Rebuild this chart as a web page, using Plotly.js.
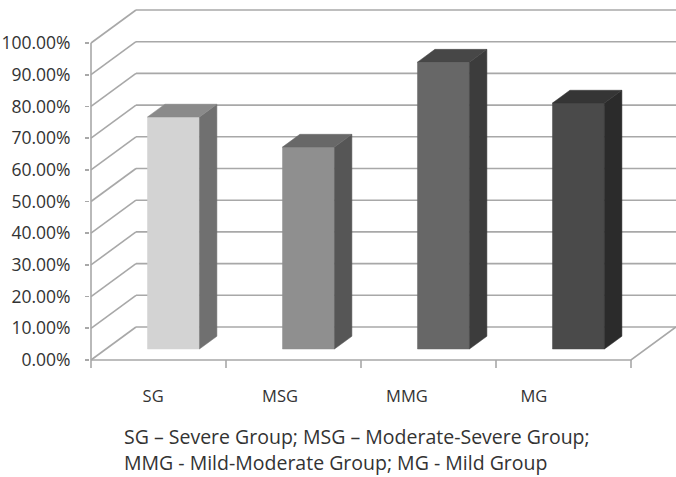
<!DOCTYPE html>
<html>
<head>
<meta charset="utf-8">
<script src="https://cdn.plot.ly/plotly-3.0.1.min.js"></script>
<style>html,body{margin:0;padding:0;background:#fff;}#chart{width:676px;height:477px;}</style>
</head>
<body>
<div id="chart"></div>
<script>
// ---- data ----
const categories = ["SG", "MSG", "MMG", "MG"];
const values = [0.732, 0.637, 0.905, 0.776];
const tickValues = [0, 0.1, 0.2, 0.3, 0.4, 0.5, 0.6, 0.7, 0.8, 0.9, 1.0];
const footnoteLines = [
  "SG \u2013 Severe Group; MSG \u2013 Moderate-Severe Group;",
  "MMG - Mild-Moderate Group; MG - Mild Group"
];

// ---- styles ----
const frontColors = ["#d3d3d3", "#8f8f8f", "#676767", "#4a4a4a"];
const sideColors  = ["#707070", "#565656", "#3c3c3c", "#2b2b2b"];
const topColors   = ["#8a8a8a", "#686868", "#474747", "#353535"];
const gridColor = "#a8a8a8";
const textColor = "#333333";
const FONT = "Open Sans";

// ---- pseudo-3D geometry (in axis units) ----
const PXX = 135, PXY = 317;           // pixels per x unit / per value unit
const DX = 45 / PXX, DY = 33 / PXY;   // full depth offset
const barW = 52 / PXX;
const d1 = 0.333, d2 = 0.72;          // bar depth extent
const xL = -0.5, xR = categories.length - 0.5;

function P(x, v, d) { return [x + d * DX, v + d * DY]; }

const traces = [];
function line(pts, color, width) {
  traces.push({type: "scatter", mode: "lines", x: pts.map(p => p[0]), y: pts.map(p => p[1]),
    line: {color: color, width: width}, hoverinfo: "skip", showlegend: false});
}
function poly(pts, color) {
  const c = pts.concat([pts[0]]);
  traces.push({type: "scatter", mode: "lines", x: c.map(p => p[0]), y: c.map(p => p[1]),
    fill: "toself", fillcolor: color, line: {color: color, width: 0.5},
    hoverinfo: "skip", showlegend: false});
}

// back wall gridlines + left wall diagonals
const plotRight = xR + DX + 0.02;
tickValues.forEach(v => {
  line([P(xL, v, 1), [plotRight, v + DY]], gridColor, 1.6);
  line([P(xL, v, 0), P(xL, v, 1)], gridColor, 1.6);
});
// floor front + right edges
line([P(xL, 0, 0), P(xR, 0, 0), P(xR, 0, 1)], gridColor, 1.6);
// front vertical axis
line([P(xL, 0, 0), P(xL, 1, 0)], gridColor, 1.6);
// category boundary ticks
for (let i = 0; i <= categories.length; i++) {
  line([P(xL + i, 0, 0), P(xL + i, -0.025, 0)], gridColor, 1.6);
}

// bars
categories.forEach((c, i) => {
  const v = values[i];
  const a = i - barW / 2, b = i + barW / 2;
  poly([P(a, 0, d1), P(b, 0, d1), P(b, v, d1), P(a, v, d1)], frontColors[i]);
  poly([P(b, 0, d1), P(b, 0, d2), P(b, v, d2), P(b, v, d1)], sideColors[i]);
  poly([P(a, v, d1), P(b, v, d1), P(b, v, d2), P(a, v, d2)], topColors[i]);
});

// ---- layout ----
const W = 676, H = 477;
const plotL = 90, plotT = 4, zeroY = 360, plotB = 373;
const xRange = [xL - (91 - plotL) / PXX, xL - (91 - plotL) / PXX + (W - plotL) / PXX];
const yRange = [-(plotB - zeroY) / PXY, (zeroY - plotT) / PXY];
const labelX = categories.map((c, i) => i * 0.94 - 0.04);

const layout = {
  width: W, height: H,
  margin: {l: plotL, r: 0, t: plotT, b: H - plotB, pad: 0},
  paper_bgcolor: "#ffffff", plot_bgcolor: "rgba(0,0,0,0)",
  showlegend: false,
  font: {family: FONT, color: textColor},
  xaxis: {range: xRange, showgrid: false, zeroline: false, showline: false,
    tickmode: "array", tickvals: labelX, ticktext: categories, ticks: "",
    ticklabelstandoff: 11, tickfont: {family: FONT, size: 16.5, color: textColor},
    fixedrange: true},
  yaxis: {range: yRange, showgrid: false, zeroline: false, showline: false,
    tickmode: "array", tickvals: tickValues, tickformat: ".2%",
    ticks: "outside", ticklen: 4, tickwidth: 1.6, tickcolor: gridColor,
    ticklabelstandoff: 11, tickfont: {family: FONT, size: 17.5, color: textColor},
    fixedrange: true},
  annotations: footnoteLines.map((t, k) => ({
    xref: "paper", yref: "paper", x: (122 - plotL) / (W - plotL),
    y: -(436 + k * 26 - plotB) / (plotB - plotT),
    xanchor: "left", yanchor: "middle", showarrow: false, text: t,
    font: {family: FONT, size: 19.5, color: textColor}
  }))
};

Plotly.newPlot("chart", traces, layout, {displayModeBar: false, staticPlot: true});
</script>
</body>
</html>
